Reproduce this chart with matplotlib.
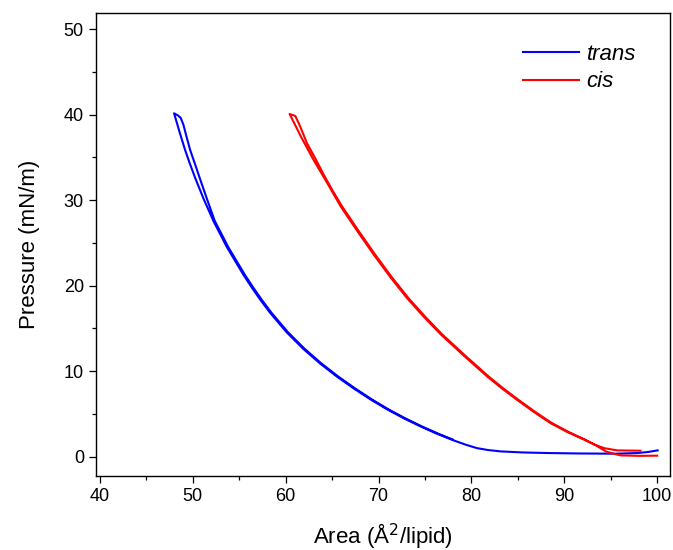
import matplotlib
matplotlib.use("Agg")
import matplotlib.pyplot as plt
from matplotlib.ticker import MultipleLocator

plt.rcParams['font.family'] = ['Liberation Sans', 'DejaVu Sans']

# trans isotherm: left branch (large -> small area)
trans_comp_area = [100.05, 99.0, 97.9, 95.4, 91.5, 88.2, 85.5, 83.15, 81.8, 80.6, 79.4, 78.1,
                   76.3, 74.5, 72.7, 70.9, 69.1, 67.3, 65.5, 63.7, 61.9, 60.1, 58.34, 57.3,
                   56.4, 55.46, 53.67, 52.22, 51.14, 50.25, 49.65, 49.17, 48.6, 47.98]
trans_comp_pres = [0.74, 0.55, 0.43, 0.35, 0.38, 0.43, 0.5, 0.62, 0.78, 1.0, 1.4, 1.9,
                   2.68, 3.55, 4.5, 5.55, 6.72, 8.0, 9.38, 10.9, 12.6, 14.55, 16.8, 18.3,
                   19.7, 21.25, 24.5, 27.55, 30.2, 32.6, 34.35, 35.85, 37.85, 40.15]
# trans isotherm: right branch (small -> large area)
trans_exp_area = [47.98, 48.4, 48.7, 48.99, 49.3, 49.7, 50.3, 50.8, 51.5, 52.37, 53.82,
                  55.61, 56.55, 57.45, 58.49, 60.25, 62.05, 63.85, 65.65, 67.45, 69.25,
                  71.05, 72.85, 74.65, 76.45, 78.0]
trans_exp_pres = [40.15, 39.9, 39.6, 38.8, 37.5, 35.9, 34.0, 32.4, 30.2, 27.55, 24.5,
                  21.25, 19.7, 18.3, 16.8, 14.55, 12.6, 10.9, 9.38, 8.0, 6.72,
                  5.55, 4.5, 3.55, 2.68, 2.0]

# cis isotherm: left branch
cis_comp_area = [98.2, 95.7, 94.3, 93.3, 92.1, 90.3, 88.5, 86.7, 84.9, 83.3, 81.7, 79.2,
                 76.7, 74.9, 73.1, 71.3, 69.5, 67.7, 65.9, 64.5, 63.0, 61.7, 60.42]
cis_comp_pres = [0.7, 0.74, 1.0, 1.4, 2.01, 2.9, 3.94, 5.25, 6.66, 7.97, 9.38, 11.8,
                 14.3, 16.33, 18.5, 20.95, 23.6, 26.4, 29.3, 31.95, 34.7, 37.3, 40.07]
# cis isotherm: right branch
cis_exp_area = [60.42, 61.03, 61.49, 62.29, 63.2, 64.08, 65.0, 66.05, 67.85, 69.65, 71.45,
                73.25, 75.05, 76.85, 79.35, 81.85, 83.45, 85.05, 86.85, 88.65, 90.45,
                92.25, 93.45, 94.5, 95.5, 96.1, 98.0, 100.0]
cis_exp_pres = [40.07, 39.84, 38.79, 36.65, 34.85, 33.0, 31.2, 29.3, 26.4, 23.6, 20.95,
                18.5, 16.33, 14.3, 11.8, 9.38, 7.97, 6.66, 5.25, 3.94, 2.9,
                1.99, 1.3, 0.6, 0.3, 0.15, 0.1, 0.12]

labels = ['trans', 'cis']
colors = ['#0000ff', '#ff0000']

fig = plt.figure(figsize=(6.73, 5.5), dpi=100)
ax = fig.add_axes([0.1422, 0.1351, 0.9948 - 0.1422, 0.9758 - 0.1351])

ax.plot(trans_comp_area + trans_exp_area, trans_comp_pres + trans_exp_pres,
        color=colors[0], lw=1.5, label=labels[0], solid_joinstyle='round')
ax.plot(cis_comp_area + cis_exp_area, cis_comp_pres + cis_exp_pres,
        color=colors[1], lw=1.5, label=labels[1], solid_joinstyle='round')

ax.set_xlim(39.54, 101.33)
ax.set_ylim(-2.22, 51.84)
ax.xaxis.set_major_locator(MultipleLocator(10))
ax.xaxis.set_minor_locator(MultipleLocator(5))
ax.yaxis.set_major_locator(MultipleLocator(10))
ax.yaxis.set_minor_locator(MultipleLocator(5))
ax.tick_params(which='major', direction='out', length=5, width=0.9, labelsize=13, colors='black')
ax.tick_params(which='minor', direction='out', length=3, width=0.9)
ax.tick_params(axis='x', which='both', top=False)
ax.tick_params(axis='y', which='both', right=False)
for s in ax.spines.values():
    s.set_linewidth(1.0)

ax.set_xlabel('Area (Å$^2$/lipid)', fontsize=16, labelpad=12)
ax.set_ylabel('Pressure (mN/m)', fontsize=16, labelpad=17)

leg = ax.legend(loc='upper left', bbox_to_anchor=(0.745, 0.934), frameon=False,
                prop={'style': 'italic', 'size': 16}, handlelength=2.5,
                handletextpad=0.36, labelspacing=0.3, borderaxespad=0.0, borderpad=0.0)

fig.savefig('out.png', dpi=100)
